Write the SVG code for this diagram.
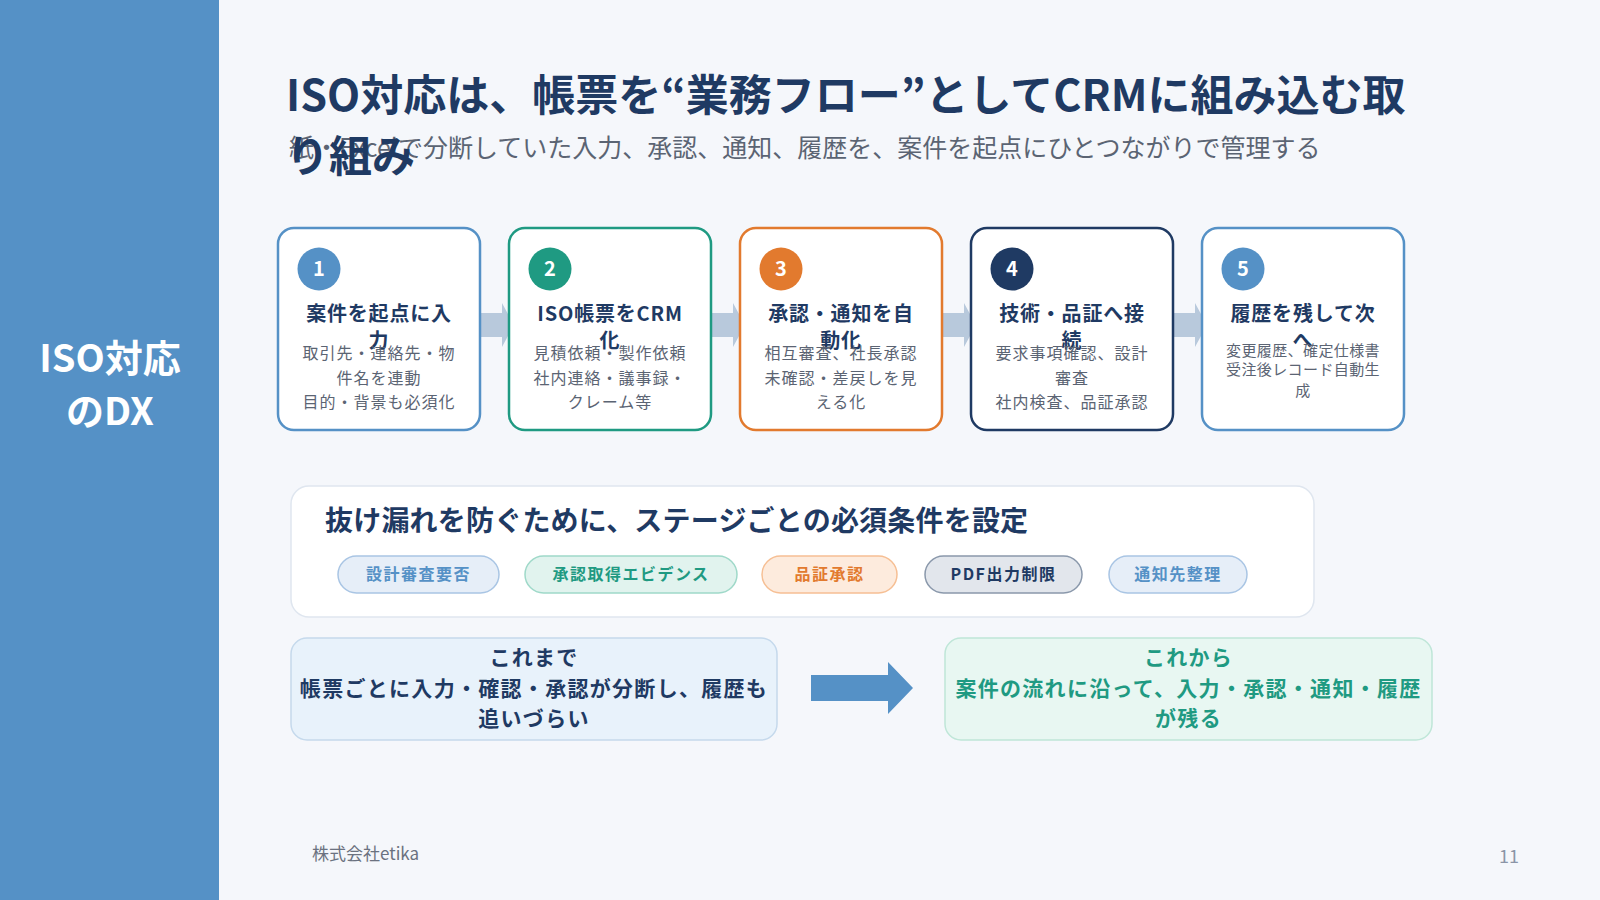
<svg xmlns="http://www.w3.org/2000/svg" width="1600" height="900" viewBox="0 0 1600 900">
<style>
text{font-family:"Noto Sans CJK JP","Noto Sans",sans-serif}
.title{font-size:43px;font-weight:700;fill:#1f3a63}
.sub{font-size:25px;fill:#5b6473}
.card{fill:#ffffff;stroke-width:2.5}
.ct{font-size:20px;font-weight:700;fill:#1f3a63;text-anchor:middle;letter-spacing:0.8px}
.cd{font-size:16px;fill:#5b6473;text-anchor:middle;letter-spacing:1px}
.cd5{font-size:15px;fill:#5b6473;text-anchor:middle;letter-spacing:0.4px}
.num{font-size:20px;font-weight:700;fill:#ffffff;text-anchor:middle}
.flow{fill:#b8c9dc}
.chip{font-size:16px;font-weight:700;text-anchor:middle;letter-spacing:1.5px}
.cmp{font-size:21px;font-weight:700;text-anchor:middle;letter-spacing:1.3px}
</style>
<rect x="0" y="0" width="1600" height="900" fill="#f5f7fb"/>
<g id="sidebar">
<rect x="0" y="0" width="219" height="900" fill="#5591c6"/>
<text x="110" y="372" font-size="38" font-weight="700" fill="#ffffff" text-anchor="middle">ISO対応</text>
<text x="110" y="425" font-size="38" font-weight="700" fill="#ffffff" text-anchor="middle">のDX</text>
</g>
<g id="heading">
<text class="title" x="286" y="111">ISO対応は、帳票を“業務フロー”としてCRMに組み込む取</text>
<text class="sub" x="289" y="157">紙・Excelで分断していた入力、承認、通知、履歴を、案件を起点にひとつながりで管理する</text>
<text class="title" x="286" y="172">り組み</text>
</g>
<g id="connectors">
<path class="flow" d="M478 313 H502 V303 L514 325 L502 347 V337 H478 Z"/>
<path class="flow" d="M709 313 H733 V303 L745 325 L733 347 V337 H709 Z"/>
<path class="flow" d="M940 313 H964 V303 L976 325 L964 347 V337 H940 Z"/>
<path class="flow" d="M1171 313 H1195 V303 L1207 325 L1195 347 V337 H1171 Z"/>
<path d="M811 675 H888 V662 L913 688 L888 714 V701 H811 Z" fill="#5591c6"/>
</g>
<g id="step1">
<rect class="card" x="278" y="228" width="202" height="202" rx="16" stroke="#5591c6"/>
<circle cx="319" cy="269" r="21.5" fill="#5591c6"/>
<text class="num" x="319" y="276">1</text>
<text class="ct" x="379" y="321">案件を起点に入</text>
<text class="ct" x="379" y="348">力</text>
<text class="cd" x="379" y="359">取引先・連絡先・物</text>
<text class="cd" x="379" y="384">件名を連動</text>
<text class="cd" x="379" y="408">目的・背景も必須化</text>
</g>
<g id="step2">
<rect class="card" x="509" y="228" width="202" height="202" rx="16" stroke="#1f9a82"/>
<circle cx="550" cy="269" r="21.5" fill="#1f9a82"/>
<text class="num" x="550" y="276">2</text>
<text class="ct" x="610" y="321">ISO帳票をCRM</text>
<text class="ct" x="610" y="348">化</text>
<text class="cd" x="610" y="359">見積依頼・製作依頼</text>
<text class="cd" x="610" y="384">社内連絡・議事録・</text>
<text class="cd" x="610" y="408">クレーム等</text>
</g>
<g id="step3">
<rect class="card" x="740" y="228" width="202" height="202" rx="16" stroke="#e27a2e"/>
<circle cx="781" cy="269" r="21.5" fill="#e27a2e"/>
<text class="num" x="781" y="276">3</text>
<text class="ct" x="841" y="321">承認・通知を自</text>
<text class="ct" x="841" y="348">動化</text>
<text class="cd" x="841" y="359">相互審査、社長承認</text>
<text class="cd" x="841" y="384">未確認・差戻しを見</text>
<text class="cd" x="841" y="408">える化</text>
</g>
<g id="step4">
<rect class="card" x="971" y="228" width="202" height="202" rx="16" stroke="#1f3a63"/>
<circle cx="1012" cy="269" r="21.5" fill="#1f3a63"/>
<text class="num" x="1012" y="276">4</text>
<text class="ct" x="1072" y="321">技術・品証へ接</text>
<text class="ct" x="1072" y="348">続</text>
<text class="cd" x="1072" y="359">要求事項確認、設計</text>
<text class="cd" x="1072" y="384">審査</text>
<text class="cd" x="1072" y="408">社内検査、品証承認</text>
</g>
<g id="step5">
<rect class="card" x="1202" y="228" width="202" height="202" rx="16" stroke="#5591c6"/>
<circle cx="1243" cy="269" r="21.5" fill="#5591c6"/>
<text class="num" x="1243" y="276">5</text>
<text class="ct" x="1303" y="321">履歴を残して次</text>
<text class="ct" x="1303" y="348">へ</text>
<text class="cd5" x="1303" y="356">変更履歴、確定仕様書</text>
<text class="cd5" x="1303" y="375">受注後レコード自動生</text>
<text class="cd5" x="1303" y="396">成</text>
</g>
<g id="requirements">
<rect x="291" y="486" width="1023" height="131" rx="18" fill="#ffffff" stroke="#dfe6ef" stroke-width="1.5"/>
<text x="325" y="531" font-size="28" font-weight="700" fill="#1f3a63" letter-spacing="0.2">抜け漏れを防ぐために、ステージごとの必須条件を設定</text>
<rect x="338" y="556" width="161" height="37" rx="18.5" fill="#e6eef8" stroke="#a9c5e4" stroke-width="1.5"/>
<text class="chip" x="418.5" y="580" fill="#5591c6">設計審査要否</text>
<rect x="525" y="556" width="212" height="37" rx="18.5" fill="#e1f3ee" stroke="#9fd9c9" stroke-width="1.5"/>
<text class="chip" x="631" y="580" fill="#1f9a82">承認取得エビデンス</text>
<rect x="762" y="556" width="135" height="37" rx="18.5" fill="#fdebdd" stroke="#f6bf94" stroke-width="1.5"/>
<text class="chip" x="829.5" y="580" fill="#e27a2e">品証承認</text>
<rect x="925" y="556" width="157" height="37" rx="18.5" fill="#e2e6ec" stroke="#8a98ab" stroke-width="1.5"/>
<text class="chip" x="1003.5" y="580" fill="#1f3a63">PDF出力制限</text>
<rect x="1109" y="556" width="138" height="37" rx="18.5" fill="#e6eef8" stroke="#a9c5e4" stroke-width="1.5"/>
<text class="chip" x="1178" y="580" fill="#5591c6">通知先整理</text>
</g>
<g id="before">
<rect x="291" y="638" width="486" height="102" rx="16" fill="#e8f2fb" stroke="#c5d9ec" stroke-width="1.5"/>
<text class="cmp" x="534" y="665" fill="#1f3a63">これまで</text>
<text class="cmp" x="534" y="696" fill="#1f3a63">帳票ごとに入力・確認・承認が分断し、履歴も</text>
<text class="cmp" x="534" y="726" fill="#1f3a63">追いづらい</text>
</g>
<g id="after">
<rect x="945" y="638" width="487" height="102" rx="16" fill="#e8f7f2" stroke="#bfe6d8" stroke-width="1.5"/>
<text class="cmp" x="1188.5" y="665" fill="#1f9a82">これから</text>
<text class="cmp" x="1188.5" y="696" fill="#1f9a82">案件の流れに沿って、入力・承認・通知・履歴</text>
<text class="cmp" x="1188.5" y="726" fill="#1f9a82">が残る</text>
</g>
<g id="footer">
<text x="312" y="860" font-size="17" fill="#6b7280">株式会社etika</text>
<text x="1519" y="863" font-size="18" fill="#8b95a7" text-anchor="end">11</text>
</g>
</svg>
